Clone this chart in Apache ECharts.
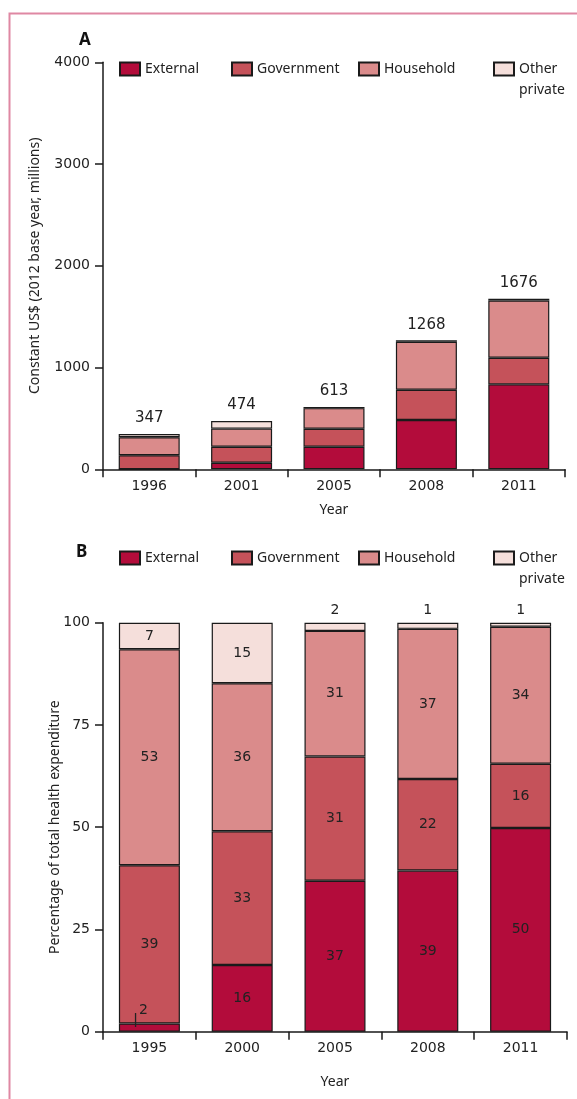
<!DOCTYPE html>
<html><head><meta charset="utf-8">
<script src="https://cdn.jsdelivr.net/npm/echarts@6/dist/echarts.min.js"></script>
<style>html,body{margin:0;padding:0;background:#fff}#c{width:577px;height:1099px}</style>
</head><body><div id="c"></div>
<script>
// ---------- Panel A: constant US$ (2012 base year, millions) ----------
const yearsA = ['1996', '2001', '2005', '2008', '2011'];
const externalA = [0, 65, 222, 485, 835];
const governmentA = [138, 157, 177, 297, 262];
const householdA = [177, 178, 202, 472, 562];
const otherA = [32, 74, 12, 14, 17];
const totalsA = [347, 474, 613, 1268, 1676];
const ticksA = [0, 1000, 2000, 3000, 4000];

// ---------- Panel B: percentage of total health expenditure ----------
const yearsB = ['1995', '2000', '2005', '2008', '2011'];
const externalB = [2.0, 16.3, 36.9, 39.4, 49.8];
const governmentB = [38.7, 32.7, 30.4, 22.4, 15.7];
const householdB = [52.8, 36.2, 30.7, 36.7, 33.5];
const otherB = [6.5, 14.8, 2.0, 1.5, 1.0];
const externalLabB = [2, 16, 37, 39, 50];
const governmentLabB = [39, 33, 31, 22, 16];
const householdLabB = [53, 36, 31, 37, 34];
const otherLabB = [7, 15, 2, 1, 1];
const ticksB = [0, 25, 50, 75, 100];

const names = ['External', 'Government', 'Household', 'Other private'];
const colors = ['#b30c3b', '#c5525a', '#da8b8b', '#f5dfdb'];
const FONT = '"Noto Sans", sans-serif';
const NUMFONT = '"DejaVu Sans", sans-serif';
const TXT = '#222';
const LINE = '#1a1a1a';

const chart = echarts.init(document.getElementById('c'), null, {renderer: 'canvas'});

function bar(i, data, gi, labelCfg) {
  return {
    type: 'bar', name: names[i], stack: 'p' + gi,
    xAxisIndex: gi, yAxisIndex: gi, data: data,
    barWidth: 61,
    itemStyle: {color: colors[i], borderColor: LINE, borderWidth: 1.2},
    label: labelCfg || {show: false},
    emphasis: {disabled: true},
    animation: false
  };
}

const inLabel = (labs) => ({
  show: true, position: 'inside', color: TXT, fontSize: 14, fontFamily: NUMFONT,
  formatter: (p) => String(labs[p.dataIndex])
});

// Panel B data with per-item label placement
const otherBData = otherB.map((v, k) => ({
  value: v,
  label: {position: k < 2 ? 'inside' : 'top', distance: 5}
}));
const externalBData = externalB.map((v, k) => k === 0 ? {
  value: v,
  label: {
    position: [16, -16.5], align: 'left', verticalAlign: 'top',
    formatter: '{sp|}{n|' + externalLabB[0] + '}\n{l|}',
    rich: {
      sp: {width: 4, height: 6},
      n: {fontSize: 14, fontFamily: NUMFONT, color: TXT, lineHeight: 6, height: 6},
      l: {width: 1.3, height: 14, backgroundColor: TXT}
    }
  }
} : v);

function xAxis(gi, cats, nameGap) {
  return {
    type: 'category', gridIndex: gi, data: cats,
    axisLine: {show: true, lineStyle: {color: LINE, width: 1.5}},
    axisTick: {show: true, length: 8, lineStyle: {color: LINE, width: 1.5}},
    axisLabel: {color: TXT, fontSize: 14, fontFamily: NUMFONT, margin: 10},
    name: 'Year', nameLocation: 'middle', nameGap: nameGap, nameMoveOverlap: false,
    nameTextStyle: {color: TXT, fontSize: 14, fontFamily: FONT}
  };
}
function yAxis(gi, ticks, name, nameGap) {
  return {
    type: 'value', gridIndex: gi,
    min: ticks[0], max: ticks[ticks.length - 1], interval: ticks[1] - ticks[0],
    axisLine: {show: true, lineStyle: {color: LINE, width: 1.5}},
    axisTick: {show: true, length: 8, lineStyle: {color: LINE, width: 1.5}},
    axisLabel: {color: TXT, fontSize: 14, fontFamily: NUMFONT, margin: 13,
      formatter: (v) => String(v)},
    splitLine: {show: false},
    name: name, nameLocation: 'middle', nameGap: nameGap, nameMoveOverlap: false,
    nameTextStyle: {color: TXT, fontSize: 14, fontFamily: FONT}
  };
}

function legends(rowY) {
  const lefts = [119, 231, 358, 493];
  return names.map((n, i) => ({
    data: [n], left: lefts[i], top: i === 3 ? rowY - 31.5 : rowY - 10.5,
    padding: 0, itemWidth: 20, itemHeight: 13, itemGap: 0, icon: 'rect',
    selectedMode: false,
    formatter: i === 3 ? '\nOther\nprivate' : '{name}',
    textStyle: {color: TXT, fontSize: 14, fontFamily: FONT, lineHeight: 21}
  }));
}

const option = {
  animation: false,
  textStyle: {fontFamily: FONT},
  title: [
    {text: 'A', left: 79, top: 32, padding: 0, textStyle: {fontSize: 17, fontWeight: 'bold', color: '#111', fontFamily: FONT}},
    {text: 'B', left: 76, top: 544, padding: 0, textStyle: {fontSize: 17, fontWeight: 'bold', color: '#111', fontFamily: FONT}}
  ],
  legend: legends(69).concat(legends(558)),
  grid: [
    {left: 103, right: 12, top: 62.3, bottom: 1099 - 469.3, containLabel: false},
    {left: 103, right: 10, top: 622.7, bottom: 1099 - 1031.7, containLabel: false}
  ],
  xAxis: [xAxis(0, yearsA, 34), xAxis(1, yearsB, 43)],
  yAxis: [
    yAxis(0, ticksA, 'Constant US$ (2012 base year, millions)', 61),
    yAxis(1, ticksB, 'Percentage of total health expenditure', 41)
  ],
  graphic: [{
    type: 'polyline', silent: true,
    shape: {points: [[9.5, 1099], [9.5, 13.5], [577, 13.5]]},
    style: {stroke: '#df88a3', lineWidth: 2, fill: null}
  }],
  series: [
    bar(0, externalA, 0),
    bar(1, governmentA, 0),
    bar(2, householdA, 0),
    bar(3, otherA, 0, {
      show: true, position: 'top', distance: 8, color: TXT, fontSize: 15, fontFamily: NUMFONT,
      formatter: (p) => String(totalsA[p.dataIndex])
    }),
    bar(0, externalBData, 1, inLabel(externalLabB)),
    bar(1, governmentB, 1, inLabel(governmentLabB)),
    bar(2, householdB, 1, inLabel(householdLabB)),
    bar(3, otherBData, 1, inLabel(otherLabB))
  ]
};
chart.setOption(option);
</script></body></html>
